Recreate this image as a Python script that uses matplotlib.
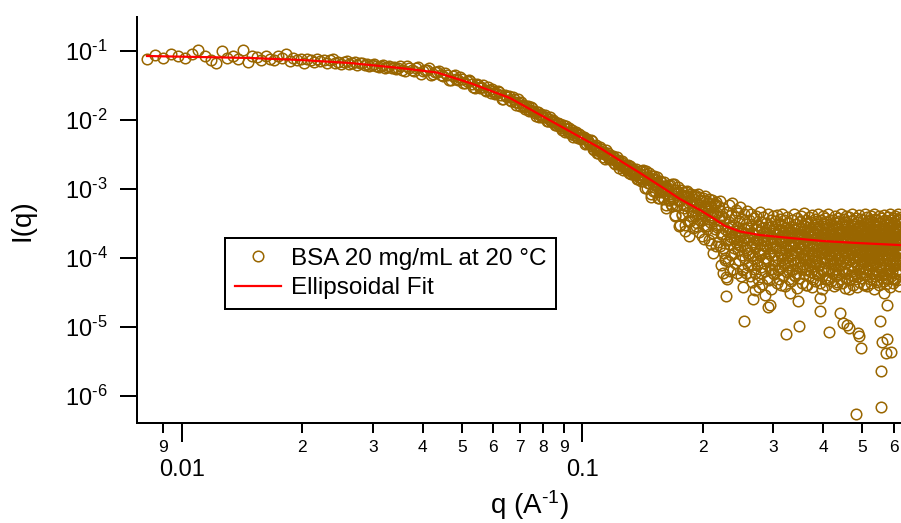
import numpy as np
import matplotlib
matplotlib.use("Agg")
import matplotlib.pyplot as plt
from matplotlib.ticker import FixedLocator, FixedFormatter, NullLocator

plt.rcParams['font.family'] = ['Liberation Sans', 'DejaVu Sans']
plt.rcParams['mathtext.fontset'] = 'custom'
plt.rcParams['mathtext.rm'] = 'Liberation Sans'
plt.rcParams['mathtext.it'] = 'Liberation Sans:italic'
plt.rcParams['mathtext.bf'] = 'Liberation Sans:bold'
plt.rcParams['mathtext.default'] = 'regular'

# ---------------- data ----------------
q_low = [0.0082, 0.0086, 0.0090, 0.0094, 0.0098, 0.0102, 0.0106, 0.0110, 0.0114, 0.0118,
         0.0122, 0.0126, 0.0130, 0.0134, 0.0138, 0.0142, 0.0146, 0.0150, 0.0154, 0.0158,
         0.0162, 0.0166, 0.0170, 0.0174, 0.0178, 0.0182, 0.0186, 0.0190, 0.0194, 0.0198,
         0.0202, 0.0206, 0.0210, 0.0214, 0.0218, 0.0222, 0.0226, 0.0230, 0.0234, 0.0238,
         0.0242, 0.0246, 0.0250, 0.0254, 0.0258, 0.0262, 0.0266, 0.0270, 0.0274, 0.0278,
         0.0282, 0.0286, 0.0290, 0.0294, 0.0298, 0.0302, 0.0306, 0.0310, 0.0314, 0.0318,
         0.0322, 0.0326, 0.0330, 0.0334, 0.0338, 0.0342, 0.0346]
I_low = [0.0770, 0.0869, 0.0791, 0.0905, 0.0851, 0.0804, 0.0906, 0.1040, 0.0857, 0.0749,
         0.0680, 0.0990, 0.0789, 0.0850, 0.0767, 0.1030, 0.0698, 0.0845, 0.0811, 0.0743,
         0.0848, 0.0774, 0.0747, 0.0858, 0.0792, 0.0900, 0.0720, 0.0793, 0.0729, 0.0762,
         0.0671, 0.0770, 0.0736, 0.0696, 0.0771, 0.0710, 0.0733, 0.0666, 0.0732, 0.0756,
         0.0681, 0.0698, 0.0652, 0.0702, 0.0718, 0.0652, 0.0667, 0.0688, 0.0631, 0.0665,
         0.0678, 0.0628, 0.0655, 0.0599, 0.0631, 0.0644, 0.0608, 0.0590, 0.0615, 0.0627,
         0.0568, 0.0592, 0.0598, 0.0564, 0.0581, 0.0548, 0.0566]

q_mid = [0.035, 0.036, 0.037, 0.038, 0.039,
         0.040, 0.041, 0.042, 0.043, 0.044, 0.045, 0.046, 0.047, 0.048, 0.049,
         0.050, 0.051, 0.052, 0.053, 0.054, 0.055, 0.056, 0.057, 0.058, 0.059,
         0.060, 0.061, 0.062, 0.063, 0.064, 0.065, 0.066, 0.067, 0.068, 0.069,
         0.070, 0.071, 0.072, 0.073, 0.074, 0.075, 0.076, 0.077, 0.078, 0.079,
         0.080, 0.081, 0.082, 0.083, 0.084, 0.085, 0.086, 0.087]
I_mid = [0.0602, 0.0512, 0.0562, 0.0515, 0.0579,
         0.0506, 0.0533, 0.0444, 0.0496, 0.0508, 0.0433, 0.0447, 0.0383, 0.0454, 0.0378,
         0.0390, 0.0340, 0.0377, 0.0336, 0.0290, 0.0326, 0.0304, 0.0276, 0.0301, 0.0247,
         0.0264, 0.0245, 0.0252, 0.0203, 0.0232, 0.0217, 0.0198, 0.0214, 0.0183, 0.0200,
         0.0162, 0.0167, 0.0144, 0.0158, 0.0141, 0.0148, 0.0127, 0.0130, 0.0110, 0.0123,
         0.0111, 0.0111, 0.00958, 0.0109, 0.00924, 0.00936, 0.00840, 0.00902]

q_mid_b = [0.0355, 0.0365, 0.0375, 0.0385, 0.0395, 0.0405, 0.0415, 0.0425, 0.0435, 0.0445,
           0.0455, 0.0465, 0.0475, 0.0485, 0.0495, 0.0505, 0.0515, 0.0525, 0.0535, 0.0545,
           0.0555, 0.0565, 0.0575, 0.0585, 0.0595, 0.0605, 0.0615, 0.0625, 0.0635, 0.0645,
           0.0655, 0.0665, 0.0675, 0.0685, 0.0695, 0.0705, 0.0715, 0.0725, 0.0735, 0.0745,
           0.0755, 0.0765, 0.0775, 0.0785, 0.0795, 0.0805, 0.0815, 0.0825, 0.0835, 0.0845,
           0.0855, 0.0865, 0.0875]
I_mid_b = [0.0534, 0.0601, 0.0530, 0.0563, 0.0469, 0.0527, 0.0563, 0.0460, 0.0488, 0.0446,
           0.0483, 0.0382, 0.0434, 0.0393, 0.0420, 0.0346, 0.0362, 0.0366, 0.0299, 0.0329,
           0.0295, 0.0324, 0.0259, 0.0274, 0.0277, 0.0238, 0.0264, 0.0229, 0.0200, 0.0226,
           0.0226, 0.0191, 0.0201, 0.0167, 0.0178, 0.0185, 0.0155, 0.0161, 0.0137, 0.0152,
           0.0134, 0.0116, 0.0130, 0.0120, 0.0109, 0.0119, 0.00966, 0.0104, 0.00953, 0.0100,
           0.00847, 0.00902, 0.00810]

q_knee = [0.088, 0.089,
          0.090, 0.091, 0.092, 0.093, 0.094, 0.095, 0.096, 0.097, 0.098, 0.099,
          0.100, 0.101, 0.102, 0.103, 0.104, 0.105, 0.106, 0.107, 0.108, 0.109,
          0.110, 0.111, 0.112, 0.113, 0.114, 0.115, 0.116, 0.117, 0.118, 0.119,
          0.120, 0.121, 0.122, 0.123, 0.124, 0.125, 0.126, 0.127, 0.128, 0.129,
          0.130, 0.131, 0.132, 0.133, 0.134, 0.135, 0.136, 0.137, 0.138, 0.139,
          0.140, 0.141, 0.142, 0.143, 0.144, 0.145, 0.146, 0.147, 0.148, 0.149,
          0.150, 0.151, 0.152, 0.153, 0.154, 0.155, 0.156, 0.157, 0.158, 0.159,
          0.160, 0.161, 0.162, 0.163, 0.164, 0.165, 0.166, 0.167, 0.168, 0.169,
          0.170, 0.171, 0.172, 0.173, 0.174, 0.175, 0.176, 0.177, 0.178, 0.179,
          0.180, 0.181, 0.182, 0.183, 0.184, 0.185, 0.186, 0.187, 0.188, 0.189]
I_knee = [0.00861, 0.00720,
          0.00778, 0.00810, 0.00668, 0.00679, 0.00709, 0.00570, 0.00638, 0.00575, 0.00626, 0.00522,
          0.00548, 0.00558, 0.00459, 0.00514, 0.00466, 0.00507, 0.00415, 0.00372, 0.00412, 0.00330,
          0.00361, 0.00405, 0.00328, 0.00343, 0.00275, 0.00311, 0.00338, 0.00270, 0.00277, 0.00290,
          0.00237, 0.00264, 0.00292, 0.00230, 0.00229, 0.00247, 0.00186, 0.00217, 0.00219, 0.00187,
          0.00226, 0.00190, 0.00166, 0.00185, 0.00194, 0.00162, 0.00175, 0.00139, 0.00158, 0.00181,
          0.00145, 0.00183, 0.00130, 0.00147, 0.00181, 0.00103, 0.00149, 0.00122, 0.000843, 0.00152,
          0.00119, 0.00154, 0.000923, 0.00118, 0.00128, 0.000741, 0.00130, 0.000927, 0.000763, 0.00110,
          0.00125, 0.000889, 0.000579, 0.000952, 0.00105, 0.000702, 0.00114, 0.000560, 0.000740, 0.00117,
          0.000402, 0.000866, 0.000578, 0.000919, 0.000295, 0.000685, 0.000954, 0.000417, 0.000805, 0.000536,
          0.000296, 0.000906, 0.000584, 0.000780, 0.000338, 0.000211, 0.000664, 0.000845, 0.000401, 0.000591]

q_knee_b = [0.0885, 0.0895,
            0.0905, 0.0915, 0.0925, 0.0935, 0.0945, 0.0955, 0.0965, 0.0975, 0.0985, 0.0995,
            0.1005, 0.1015, 0.1025, 0.1035, 0.1045, 0.1055, 0.1065, 0.1075, 0.1085, 0.1095,
            0.1105, 0.1115, 0.1125, 0.1135, 0.1145, 0.1155, 0.1165, 0.1175, 0.1185, 0.1195,
            0.1205, 0.1215, 0.1225, 0.1235, 0.1245, 0.1255, 0.1265, 0.1275, 0.1285, 0.1295,
            0.1305, 0.1315, 0.1325, 0.1335, 0.1345, 0.1355, 0.1365, 0.1375, 0.1385, 0.1395,
            0.1405, 0.1415, 0.1425, 0.1435, 0.1445, 0.1455, 0.1465, 0.1475, 0.1485, 0.1495,
            0.1505, 0.1515, 0.1525, 0.1535, 0.1545, 0.1555, 0.1565, 0.1575, 0.1585, 0.1595,
            0.1605, 0.1615, 0.1625, 0.1635, 0.1645, 0.1655, 0.1665, 0.1675, 0.1685, 0.1695,
            0.1705, 0.1715, 0.1725, 0.1735, 0.1745, 0.1755, 0.1765, 0.1775, 0.1785, 0.1795,
            0.1805, 0.1815, 0.1825, 0.1835, 0.1845, 0.1855, 0.1865, 0.1875, 0.1885, 0.1895]
I_knee_b = [0.00773, 0.00839,
            0.00674, 0.00745, 0.00775, 0.00627, 0.00665, 0.00611, 0.00664, 0.00542, 0.00599, 0.00546,
            0.00571, 0.00456, 0.00522, 0.00492, 0.00444, 0.00504, 0.00382, 0.00409, 0.00432, 0.00334,
            0.00359, 0.00379, 0.00293, 0.00320, 0.00364, 0.00312, 0.00274, 0.00307, 0.00269, 0.00300,
            0.00233, 0.00257, 0.00260, 0.00203, 0.00230, 0.00258, 0.00205, 0.00220, 0.00198, 0.00218,
            0.00173, 0.00214, 0.00186, 0.00164, 0.00183, 0.00167, 0.00194, 0.00139, 0.00150, 0.00165,
            0.00132, 0.00187, 0.00148, 0.00104, 0.00164, 0.00123, 0.00173, 0.00134, 0.000777, 0.00139,
            0.000940, 0.00140, 0.00109, 0.00149, 0.000736, 0.00114, 0.000902, 0.00127, 0.000966, 0.000714,
            0.00112, 0.000537, 0.00100, 0.00113, 0.000692, 0.000783, 0.000609, 0.00117, 0.000707, 0.000878,
            0.000413, 0.000980, 0.000594, 0.00107, 0.000671, 0.000300, 0.000813, 0.000440, 0.000892, 0.000584,
            0.000248, 0.000769, 0.000931, 0.000458, 0.000632, 0.000347, 0.000800, 0.000474, 0.000273, 0.000714]

q_high = [0.190, 0.191, 0.192, 0.193, 0.194, 0.195, 0.196, 0.197, 0.198, 0.199,
          0.200, 0.201, 0.202, 0.203, 0.204, 0.205, 0.206, 0.207, 0.208, 0.209,
          0.210, 0.211, 0.212, 0.213, 0.214, 0.215, 0.216, 0.217, 0.218, 0.219,
          0.220, 0.221, 0.222, 0.223, 0.224, 0.225, 0.226, 0.227, 0.228, 0.229,
          0.230, 0.231, 0.232, 0.233, 0.234, 0.235, 0.236, 0.237, 0.238, 0.239,
          0.240, 0.241, 0.242, 0.243, 0.244, 0.245, 0.246, 0.247, 0.248, 0.249,
          0.250, 0.251, 0.252, 0.253, 0.254, 0.255, 0.256, 0.257, 0.258, 0.259,
          0.260, 0.261, 0.262, 0.263, 0.264, 0.265, 0.266, 0.267, 0.268, 0.269,
          0.270, 0.271, 0.272, 0.273, 0.274, 0.275, 0.276, 0.277, 0.278, 0.279,
          0.280, 0.281, 0.282, 0.283, 0.284, 0.285, 0.286, 0.287, 0.288, 0.289,
          0.290, 0.291, 0.292, 0.293, 0.294, 0.295, 0.296, 0.297, 0.298, 0.299,
          0.300, 0.301, 0.302, 0.303, 0.304, 0.305, 0.306, 0.307, 0.308, 0.309,
          0.310, 0.311, 0.312, 0.313, 0.314, 0.315, 0.316, 0.317, 0.318, 0.319,
          0.320, 0.321, 0.322, 0.323, 0.324, 0.325, 0.326, 0.327, 0.328, 0.329,
          0.330, 0.331, 0.332, 0.333, 0.334, 0.335, 0.336, 0.337, 0.338, 0.339,
          0.340, 0.341, 0.342, 0.343, 0.344, 0.345, 0.346, 0.347, 0.348, 0.349,
          0.350, 0.351, 0.352, 0.353, 0.354, 0.355, 0.356, 0.357, 0.358, 0.359,
          0.360, 0.361, 0.362, 0.363, 0.364, 0.365, 0.366, 0.367, 0.368, 0.369,
          0.370, 0.371, 0.372, 0.373, 0.374, 0.375, 0.376, 0.377, 0.378, 0.379,
          0.380, 0.381, 0.382, 0.383, 0.384, 0.385, 0.386, 0.387, 0.388, 0.389,
          0.390, 0.391, 0.392, 0.393, 0.394, 0.395, 0.396, 0.397, 0.398, 0.399,
          0.400, 0.401, 0.402, 0.403, 0.404, 0.405, 0.406, 0.407, 0.408, 0.409,
          0.410, 0.411, 0.412, 0.413, 0.414, 0.415, 0.416, 0.417, 0.418, 0.419,
          0.420, 0.421, 0.422, 0.423, 0.424, 0.425, 0.426, 0.427, 0.428, 0.429,
          0.430, 0.431, 0.432, 0.433, 0.434, 0.435, 0.436, 0.437, 0.438, 0.439,
          0.440, 0.441, 0.442, 0.443, 0.444, 0.445, 0.446, 0.447, 0.448, 0.449,
          0.450, 0.451, 0.452, 0.453, 0.454, 0.455, 0.456, 0.457, 0.458, 0.459,
          0.460, 0.461, 0.462, 0.463, 0.464, 0.465, 0.466, 0.467, 0.468, 0.469,
          0.470, 0.471, 0.472, 0.473, 0.474, 0.475, 0.476, 0.477, 0.478, 0.479,
          0.480, 0.481, 0.482, 0.483, 0.484, 0.485, 0.486, 0.487, 0.488, 0.489,
          0.490, 0.491, 0.492, 0.493, 0.494, 0.495, 0.496, 0.497, 0.498, 0.499,
          0.500, 0.501, 0.502, 0.503, 0.504, 0.505, 0.506, 0.507, 0.508, 0.509,
          0.510, 0.511, 0.512, 0.513, 0.514, 0.515, 0.516, 0.517, 0.518, 0.519,
          0.520, 0.521, 0.522, 0.523, 0.524, 0.525, 0.526, 0.527, 0.528, 0.529,
          0.530, 0.531, 0.532, 0.533, 0.534, 0.535, 0.536, 0.537, 0.538, 0.539,
          0.540, 0.541, 0.542, 0.543, 0.544, 0.545, 0.546, 0.547, 0.548, 0.549,
          0.550, 0.551, 0.552, 0.553, 0.554, 0.555, 0.556, 0.557, 0.558, 0.559,
          0.560, 0.561, 0.562, 0.563, 0.564, 0.565, 0.566, 0.567, 0.568, 0.569,
          0.570, 0.571, 0.572, 0.573, 0.574, 0.575, 0.576, 0.577, 0.578, 0.579,
          0.580, 0.581, 0.582, 0.583, 0.584, 0.585, 0.586, 0.587, 0.588, 0.589,
          0.590, 0.591, 0.592, 0.593, 0.594, 0.595, 0.596, 0.597, 0.598, 0.599,
          0.600, 0.601, 0.602, 0.603, 0.604, 0.605, 0.606, 0.607, 0.608, 0.609,
          0.610, 0.611, 0.612, 0.613, 0.614, 0.615, 0.616, 0.617, 0.618, 0.619,
          0.620, 0.621, 0.622, 0.623, 0.624, 0.625]
I_high = [7.8e-4, 4.1e-4, 6.3e-4, 3.2e-4, 8.6e-4, 5.2e-4, 2.4e-4, 6.9e-4, 4.4e-4, 3.6e-4,
          7.4e-4, 1.9e-4, 5.6e-4, 4.0e-4, 6.6e-4, 2.9e-4, 4.8e-4, 7.1e-4, 3.3e-4, 1.6e-4,
          5.5e-4, 3.9e-4, 1.18e-4, 5.9e-4, 2.6e-4, 4.4e-4, 6.4e-4, 3.0e-4, 1.7e-4, 4.9e-4,
          3.5e-4, 6.8e-4, 2.2e-4, 4.1e-4, 5.3e-4, 1.4e-4, 3.8e-4, 9.35e-5, 5.3e-5, 2.8e-5,
          4.6e-4, 2.7e-4, 5.8e-4, 3.3e-4, 1.9e-4, 4.2e-4, 2.4e-4, 6.2e-4, 3.0e-4, 1.2e-4,
          3.9e-4, 2.1e-4, 5.0e-4, 2.8e-4, 1.6e-4, 4.5e-4, 3.4e-4, 2.0e-4, 5.5e-4, 2.5e-4,
          3.7e-4, 6.7e-5, 3.8e-5, 1.22e-5, 4.3e-4, 2.3e-4, 3.1e-4, 1.3e-4, 4.8e-4, 2.7e-4,
          1.8e-4, 3.5e-4, 1.5e-4, 2.9e-4, 4.4e-4, 1.1e-4, 2.2e-4, 2.55e-5, 3.8e-4, 1.7e-4,
          3.44e-5, 2.6e-4, 4.1e-4, 8.0e-5, 3.0e-4, 1.9e-4, 2.4e-4, 4.6e-4, 1.3e-4, 3.3e-4,
          6.0e-5, 2.7e-4, 1.8e-4, 3.9e-4, 2.1e-4, 1.0e-4, 2.91e-5, 3.2e-4, 2.4e-4, 1.5e-4,
          4.3e-4, 1.95e-5, 2.8e-4, 1.2e-4, 2.08e-5, 3.6e-4, 2.0e-4, 7.0e-5, 2.9e-4, 4.0e-4,
          1.6e-4, 2.3e-4, 3.4e-4, 9.0e-5, 2.6e-4, 1.4e-4, 4.2e-4, 2.2e-4, 3.1e-4, 5.0e-5,
          1.9e-4, 3.7e-4, 2.5e-4, 1.1e-4, 2.9e-4, 4.4e-4, 1.7e-4, 2.3e-4, 8.5e-5, 3.5e-4,
          2.0e-4, 2.7e-4, 7.9e-6, 1.3e-4, 3.9e-4, 2.1e-4, 1.6e-4, 3.2e-4, 6.5e-5, 2.6e-4,
          3.11e-5, 2.4e-4, 1.5e-4, 3.6e-4, 2.0e-4, 9.5e-5, 2.8e-4, 4.3e-4, 1.7e-4, 2.3e-4,
          5.5e-5, 3.1e-4, 1.2e-4, 2.6e-4, 3.8e-4, 1.9e-4, 2.4e-5, 1.03e-5, 2.2e-4, 3.4e-4,
          1.4e-4, 2.7e-4, 4.1e-4, 7.5e-5, 2.0e-4, 3.0e-4, 1.6e-4, 2.5e-4, 4.5e-4, 1.0e-4,
          2.9e-4, 1.8e-4, 3.5e-4, 4.0e-5, 2.3e-4, 1.3e-4, 3.2e-4, 2.1e-4, 3.9e-4, 8.0e-5,
          2.6e-4, 1.7e-4, 3.3e-4, 2.0e-4, 1.1e-4, 4.2e-4, 2.4e-4, 1.5e-4, 3.0e-4, 6.0e-5,
          2.2e-4, 3.7e-4, 1.9e-4, 2.8e-4, 9.0e-5, 3.4e-4, 1.6e-4, 2.5e-4, 4.4e-4, 1.2e-4,
          2.9e-4, 2.6e-5, 1.71e-5, 2.1e-4, 3.6e-4, 1.4e-4, 2.7e-4, 1.8e-4, 4.0e-4, 7.0e-5,
          2.3e-4, 3.1e-4, 1.3e-4, 2.0e-4, 3.8e-4, 1.0e-4, 2.6e-4, 1.7e-4, 3.3e-4, 5.0e-5,
          2.4e-4, 4.3e-4, 1.5e-4, 8.5e-6, 2.8e-4, 1.9e-4, 3.5e-4, 1.1e-4, 2.2e-4, 3.0e-4,
          1.6e-4, 2.7e-4, 1.3e-4, 3.6e-4, 2.1e-4, 8.0e-5, 2.9e-4, 1.7e-4, 4.1e-4, 2.4e-4,
          1.2e-4, 3.2e-4, 4.5e-5, 2.0e-4, 3.8e-4, 1.5e-4, 2.6e-4, 9.5e-5, 3.4e-4, 2.2e-4,
          1.6e-5, 1.8e-4, 4.3e-4, 1.4e-4, 2.5e-4, 3.1e-4, 6.5e-5, 1.14e-5, 2.3e-4, 3.7e-4,
          1.6e-4, 2.8e-4, 1.0e-4, 3.3e-4, 1.9e-4, 4.0e-4, 1.3e-4, 2.5e-4, 1.07e-5, 3.0e-4,
          1.7e-4, 2.2e-4, 3.5e-5, 9.7e-6, 3.9e-4, 1.5e-4, 2.7e-4, 2.0e-4, 3.4e-4, 8.0e-5,
          2.4e-4, 4.4e-4, 1.2e-4, 2.9e-4, 1.8e-4, 3.6e-4, 5.5e-5, 2.1e-4, 3.1e-4, 1.4e-4,
          2.6e-4, 3.8e-4, 5.5e-7, 1.9e-4, 2.3e-4, 1.1e-4, 3.3e-4, 1.6e-4, 8.2e-6, 2.8e-4,
          4.2e-4, 7.5e-6, 2.0e-4, 1.3e-4, 3.0e-4, 2.5e-4, 5.0e-6, 3.7e-4, 1.7e-4, 9.0e-5,
          2.7e-4, 2.2e-4, 3.5e-4, 1.5e-4, 4.0e-5, 2.9e-4, 1.8e-4, 4.3e-4, 1.2e-4, 2.4e-4,
          3.2e-4, 7.0e-5, 2.1e-4, 3.9e-4, 1.6e-4, 2.6e-4, 1.0e-4, 3.4e-4, 1.9e-4, 2.8e-4,
          1.4e-4, 3.1e-4, 2.0e-4, 1.1e-4, 3.6e-4, 2.3e-4, 1.5e-4, 4.1e-4, 2.6e-4, 6.0e-5,
          1.8e-4, 3.3e-4, 2.2e-4, 1.3e-4, 2.9e-4, 4.4e-4, 1.7e-4, 8.5e-5, 2.5e-4, 3.7e-4,
          1.4e-4, 2.1e-4, 3.0e-4, 4.5e-5, 1.9e-4, 3.5e-4, 2.4e-4, 1.0e-4, 2.8e-4, 4.0e-4,
          1.6e-4, 2.3e-4, 3.2e-4, 1.22e-5, 2.0e-4, 1.2e-4, 6.9e-7, 2.3e-6, 3.8e-4, 2.6e-4,
          6.1e-6, 1.8e-4, 3.4e-4, 9.5e-5, 2.2e-4, 4.2e-4, 1.5e-4, 2.7e-4, 3.1e-5, 2.0e-4,
          3.6e-4, 1.3e-4, 2.4e-4, 4.2e-6, 3.0e-4, 1.7e-4, 2.1e-5, 6.7e-6, 2.5e-4, 3.9e-4,
          1.1e-4, 2.2e-4, 3.3e-4, 1.6e-4, 7.0e-5, 2.8e-4, 4.3e-4, 1.9e-4, 2.4e-4, 1.2e-4,
          4.35e-6, 3.5e-4, 2.1e-4, 1.4e-4, 3.0e-4, 5.0e-5, 2.6e-4, 3.8e-4, 1.5e-4, 2.0e-4,
          3.2e-4, 1.0e-4, 2.7e-4, 4.1e-4, 1.7e-4, 2.3e-4, 8.0e-5, 3.4e-4, 1.9e-4, 2.9e-4,
          1.3e-4, 3.7e-4, 2.2e-4, 1.6e-4, 4.4e-4, 2.5e-4, 6.5e-5, 3.1e-4, 1.8e-4, 2.4e-4,
          3.5e-4, 1.4e-4, 2.7e-4, 2.0e-4, 3.9e-4, 1.2e-4]

q_high_b = [0.1905, 0.1915, 0.1925, 0.1935, 0.1945, 0.1955, 0.1965, 0.1975, 0.1985, 0.1995,
            0.2005, 0.2015, 0.2025, 0.2035, 0.2045, 0.2055, 0.2065, 0.2075, 0.2085, 0.2095,
            0.2105, 0.2115, 0.2125, 0.2135, 0.2145, 0.2155, 0.2165, 0.2175, 0.2185, 0.2195,
            0.2205, 0.2215, 0.2225, 0.2235, 0.2245, 0.2255, 0.2265, 0.2275, 0.2285, 0.2295,
            0.2305, 0.2315, 0.2325, 0.2335, 0.2345, 0.2355, 0.2365, 0.2375, 0.2385, 0.2395,
            0.2405, 0.2415, 0.2425, 0.2435, 0.2445, 0.2455, 0.2465, 0.2475, 0.2485, 0.2495,
            0.2505, 0.2515, 0.2525, 0.2535, 0.2545, 0.2555, 0.2565, 0.2575, 0.2585, 0.2595,
            0.2605, 0.2615, 0.2625, 0.2635, 0.2645, 0.2655, 0.2665, 0.2675, 0.2685, 0.2695,
            0.2705, 0.2715, 0.2725, 0.2735, 0.2745, 0.2755, 0.2765, 0.2775, 0.2785, 0.2795,
            0.2805, 0.2815, 0.2825, 0.2835, 0.2845, 0.2855, 0.2865, 0.2875, 0.2885, 0.2895,
            0.2905, 0.2915, 0.2925, 0.2935, 0.2945, 0.2955, 0.2965, 0.2975, 0.2985, 0.2995,
            0.3005, 0.3015, 0.3025, 0.3035, 0.3045, 0.3055, 0.3065, 0.3075, 0.3085, 0.3095,
            0.3105, 0.3115, 0.3125, 0.3135, 0.3145, 0.3155, 0.3165, 0.3175, 0.3185, 0.3195,
            0.3205, 0.3215, 0.3225, 0.3235, 0.3245, 0.3255, 0.3265, 0.3275, 0.3285, 0.3295,
            0.3305, 0.3315, 0.3325, 0.3335, 0.3345, 0.3355, 0.3365, 0.3375, 0.3385, 0.3395,
            0.3405, 0.3415, 0.3425, 0.3435, 0.3445, 0.3455, 0.3465, 0.3475, 0.3485, 0.3495,
            0.3505, 0.3515, 0.3525, 0.3535, 0.3545, 0.3555, 0.3565, 0.3575, 0.3585, 0.3595,
            0.3605, 0.3615, 0.3625, 0.3635, 0.3645, 0.3655, 0.3665, 0.3675, 0.3685, 0.3695,
            0.3705, 0.3715, 0.3725, 0.3735, 0.3745, 0.3755, 0.3765, 0.3775, 0.3785, 0.3795,
            0.3805, 0.3815, 0.3825, 0.3835, 0.3845, 0.3855, 0.3865, 0.3875, 0.3885, 0.3895,
            0.3905, 0.3915, 0.3925, 0.3935, 0.3945, 0.3955, 0.3965, 0.3975, 0.3985, 0.3995,
            0.4005, 0.4015, 0.4025, 0.4035, 0.4045, 0.4055, 0.4065, 0.4075, 0.4085, 0.4095,
            0.4105, 0.4115, 0.4125, 0.4135, 0.4145, 0.4155, 0.4165, 0.4175, 0.4185, 0.4195,
            0.4205, 0.4215, 0.4225, 0.4235, 0.4245, 0.4255, 0.4265, 0.4275, 0.4285, 0.4295,
            0.4305, 0.4315, 0.4325, 0.4335, 0.4345, 0.4355, 0.4365, 0.4375, 0.4385, 0.4395,
            0.4405, 0.4415, 0.4425, 0.4435, 0.4445, 0.4455, 0.4465, 0.4475, 0.4485, 0.4495,
            0.4505, 0.4515, 0.4525, 0.4535, 0.4545, 0.4555, 0.4565, 0.4575, 0.4585, 0.4595,
            0.4605, 0.4615, 0.4625, 0.4635, 0.4645, 0.4655, 0.4665, 0.4675, 0.4685, 0.4695,
            0.4705, 0.4715, 0.4725, 0.4735, 0.4745, 0.4755, 0.4765, 0.4775, 0.4785, 0.4795,
            0.4805, 0.4815, 0.4825, 0.4835, 0.4845, 0.4855, 0.4865, 0.4875, 0.4885, 0.4895,
            0.4905, 0.4915, 0.4925, 0.4935, 0.4945, 0.4955, 0.4965, 0.4975, 0.4985, 0.4995,
            0.5005, 0.5015, 0.5025, 0.5035, 0.5045, 0.5055, 0.5065, 0.5075, 0.5085, 0.5095,
            0.5105, 0.5115, 0.5125, 0.5135, 0.5145, 0.5155, 0.5165, 0.5175, 0.5185, 0.5195,
            0.5205, 0.5215, 0.5225, 0.5235, 0.5245, 0.5255, 0.5265, 0.5275, 0.5285, 0.5295,
            0.5305, 0.5315, 0.5325, 0.5335, 0.5345, 0.5355, 0.5365, 0.5375, 0.5385, 0.5395,
            0.5405, 0.5415, 0.5425, 0.5435, 0.5445, 0.5455, 0.5465, 0.5475, 0.5485, 0.5495,
            0.5505, 0.5515, 0.5525, 0.5535, 0.5545, 0.5555, 0.5565, 0.5575, 0.5585, 0.5595,
            0.5605, 0.5615, 0.5625, 0.5635, 0.5645, 0.5655, 0.5665, 0.5675, 0.5685, 0.5695,
            0.5705, 0.5715, 0.5725, 0.5735, 0.5745, 0.5755, 0.5765, 0.5775, 0.5785, 0.5795,
            0.5805, 0.5815, 0.5825, 0.5835, 0.5845, 0.5855, 0.5865, 0.5875, 0.5885, 0.5895,
            0.5905, 0.5915, 0.5925, 0.5935, 0.5945, 0.5955, 0.5965, 0.5975, 0.5985, 0.5995,
            0.6005, 0.6015, 0.6025, 0.6035, 0.6045, 0.6055, 0.6065, 0.6075, 0.6085, 0.6095,
            0.6105, 0.6115, 0.6125, 0.6135, 0.6145, 0.6155, 0.6165, 0.6175, 0.6185, 0.6195,
            0.6205, 0.6215, 0.6225, 0.6235, 0.6245]
I_high_b = [5.0e-4, 8.2e-4, 2.9e-4, 6.0e-4, 4.3e-4, 7.6e-4, 3.5e-4, 5.4e-4, 2.1e-4, 6.7e-4,
            4.6e-4, 3.0e-4, 8.0e-4, 5.1e-4, 2.6e-4, 6.2e-4, 3.7e-4, 1.8e-4, 5.7e-4, 4.2e-4,
            7.0e-4, 2.3e-4, 4.7e-4, 3.4e-4, 6.1e-4, 1.5e-4, 4.5e-4, 2.8e-4, 5.6e-4, 3.9e-4,
            15e-5, 30e-5, 8e-5, 22e-5, 6e-5, 12e-5, 26e-5, 10e-5, 18e-5, 5e-5,
            24e-5, 9e-5, 16e-5, 6.5e-5, 20e-5, 11e-5, 28e-5, 7e-5, 14e-5, 19e-5,
            8.5e-5, 17e-5, 25e-5, 6e-5, 13e-5, 21e-5, 9.5e-5, 15e-5, 5.5e-5, 23e-5,
            11e-5, 18e-5, 7e-5, 27e-5, 10e-5, 14e-5, 6e-5, 20e-5, 12e-5, 8e-5,
            12e-5, 5.5e-5, 20e-5, 8e-5, 16e-5, 4.5e-5, 10e-5, 23e-5, 7e-5, 14e-5,
            6e-5, 18e-5, 9e-5, 26e-5, 5e-5, 12e-5, 3.8e-5, 16e-5, 11e-5, 7.5e-5,
            20e-5, 4.2e-5, 13e-5, 8.5e-5, 24e-5, 6.5e-5, 15e-5, 10e-5, 5.2e-5, 18e-5,
            9e-5, 22e-5, 4.8e-5, 12e-5, 7e-5, 17e-5, 3.6e-5, 14e-5, 26e-5, 6e-5,
            11e-5, 5.8e-5, 19e-5, 8e-5, 15e-5, 4.4e-5, 23e-5, 10e-5, 6.8e-5, 13e-5,
            25e-5, 7.2e-5, 12e-5, 4e-5, 17e-5, 9.5e-5, 5.4e-5, 21e-5, 11e-5, 8e-5,
            14e-5, 3.9e-5, 18e-5, 6.2e-5, 10e-5, 24e-5, 7.8e-5, 13e-5, 5e-5, 16e-5,
            9e-5, 20e-5, 4.6e-5, 12e-5, 7e-5, 15e-5, 26e-5, 5.6e-5, 11e-5, 8.4e-5,
            17e-5, 6e-5, 13e-5, 3.7e-5, 22e-5, 9e-5, 14e-5, 5.2e-5, 19e-5, 10e-5,
            7.4e-5, 24e-5, 12e-5, 4.3e-5, 16e-5, 8.2e-5, 11e-5, 5.8e-5, 20e-5, 6.6e-5,
            13e-5, 9.5e-5, 4.1e-5, 18e-5, 7e-5, 25e-5, 10e-5, 5.4e-5, 15e-5, 8e-5,
            21e-5, 6.2e-5, 12e-5, 3.8e-5, 16e-5, 9e-5, 14e-5, 5e-5, 23e-5, 7.6e-5,
            10e-5, 4.7e-5, 19e-5, 8.8e-5, 13e-5, 6e-5, 26e-5, 11e-5, 5.6e-5, 15e-5,
            8e-5, 17e-5, 4.4e-5, 12e-5, 7e-5, 22e-5, 9.6e-5, 3.6e-5, 14e-5, 6.4e-5,
            18e-5, 10e-5, 5.2e-5, 24e-5, 8.4e-5, 13e-5, 4e-5, 16e-5, 6.8e-5, 11e-5,
            7.2e-5, 20e-5, 12e-5, 5e-5, 15e-5, 9e-5, 25e-5, 4.6e-5, 10e-5, 17e-5,
            6e-5, 13e-5, 8.2e-5, 22e-5, 3.9e-5, 11e-5, 16e-5, 7e-5, 19e-5, 5.4e-5,
            14e-5, 9.4e-5, 4.2e-5, 18e-5, 6.6e-5, 12e-5, 24e-5, 5.8e-5, 10e-5, 8e-5,
            23e-5, 5e-5, 15e-5, 7.8e-5, 11e-5, 4.4e-5, 20e-5, 9e-5, 13e-5, 6.2e-5,
            10e-5, 17e-5, 3.7e-5, 12e-5, 8.6e-5, 26e-5, 6e-5, 14e-5, 5.2e-5, 19e-5,
            7e-5, 11e-5, 21e-5, 4.8e-5, 16e-5, 9.2e-5, 13e-5, 5.6e-5, 24e-5, 8e-5,
            12e-5, 6.4e-5, 18e-5, 4e-5, 10e-5, 15e-5, 7.4e-5, 22e-5, 5e-5, 13e-5,
            9e-5, 25e-5, 5.8e-5, 14e-5, 8e-5, 3.8e-5, 17e-5, 11e-5, 6.8e-5, 20e-5,
            4.5e-5, 13e-5, 9.8e-5, 23e-5, 6e-5, 16e-5, 7.6e-5, 12e-5, 5.2e-5, 18e-5,
            11e-5, 7e-5, 21e-5, 4.2e-5, 14e-5, 8.8e-5, 26e-5, 6.2e-5, 10e-5, 15e-5,
            5.6e-5, 19e-5, 9e-5, 12e-5, 3.9e-5, 16e-5, 7.2e-5, 24e-5, 10e-5, 6.6e-5,
            17e-5, 8e-5, 13e-5, 5e-5, 22e-5, 9.4e-5, 4.4e-5, 15e-5, 11e-5, 7.8e-5,
            20e-5, 6e-5, 12e-5, 3.6e-5, 18e-5, 8.4e-5, 14e-5, 5.4e-5, 25e-5, 10e-5,
            7e-5, 15e-5, 4.8e-5, 11e-5, 21e-5, 6.4e-5, 13e-5, 9e-5, 17e-5, 5.8e-5,
            12e-5, 4e-5, 19e-5, 8.2e-5, 14e-5, 6.8e-5, 23e-5, 10e-5, 5.2e-5, 16e-5,
            9.2e-5, 18e-5, 5.6e-5, 13e-5, 7.4e-5, 26e-5, 4.6e-5, 11e-5, 15e-5, 6e-5,
            22e-5, 8e-5, 12e-5, 4.2e-5, 17e-5, 9.8e-5, 6.4e-5, 14e-5, 5e-5, 20e-5,
            10e-5, 6.6e-5, 24e-5, 8.6e-5, 13e-5, 3.8e-5, 16e-5, 7.2e-5, 11e-5, 18e-5,
            5.4e-5, 14e-5, 9e-5, 21e-5, 6.2e-5, 12e-5, 4.4e-5, 19e-5, 8e-5, 15e-5,
            11e-5, 7.6e-5, 17e-5, 5e-5, 23e-5, 9.4e-5, 13e-5, 6e-5, 25e-5, 8.8e-5,
            16e-5, 4.8e-5, 12e-5, 7e-5, 20e-5, 10e-5, 5.8e-5, 14e-5, 3.9e-5, 18e-5,
            9e-5, 13e-5, 6.4e-5, 22e-5, 11e-5]

q_fit = [0.00819, 0.01111, 0.01481, 0.01974, 0.02631, 0.03506, 0.04338, 0.05243, 0.06600,
         0.08448, 0.09867, 0.1107, 0.1293, 0.1393, 0.1563, 0.1753, 0.1967, 0.2120, 0.2271,
         0.2476, 0.2777, 0.3300, 0.3991, 0.4851, 0.6211]
I_fit = [0.0846, 0.0818, 0.0792, 0.0741, 0.0670, 0.0567, 0.0488, 0.0344, 0.0208,
         0.00935, 0.00567, 0.00393, 0.00223, 0.00171, 0.00111, 0.000716, 0.000496, 0.000380, 0.000291,
         0.000242, 0.000215, 0.000195, 0.000176, 0.000165, 0.000154]

y_major = [1e-6, 1e-5, 1e-4, 1e-3, 1e-2, 1e-1]
y_exponents = ['-6', '-5', '-4', '-3', '-2', '-1']
x_major = [0.01, 0.1]
x_major_labels = ['0.01', '0.1']
x_minor = [0.009, 0.02, 0.03, 0.04, 0.05, 0.06, 0.07, 0.08, 0.09, 0.2, 0.3, 0.4, 0.5, 0.6]
x_minor_labels = ['9', '2', '3', '4', '5', '6', '7', '8', '9', '2', '3', '4', '5', '6']

series_label = 'BSA 20 mg/mL at 20 °C'
fit_label = 'Ellipsoidal Fit'

for a, b in [(q_low, I_low), (q_mid, I_mid), (q_mid_b, I_mid_b), (q_knee, I_knee),
             (q_knee_b, I_knee_b), (q_high, I_high), (q_high_b, I_high_b), (q_fit, I_fit)]:
    assert len(a) == len(b), (len(a), len(b))

# superscripts with a short hyphen if mathtext supports \text
try:
    from matplotlib.mathtext import MathTextParser
    MathTextParser('agg').parse(r'$10^{\text{-1}}$', dpi=100)
    def sup(e):
        return r'\text{%s}' % e
except Exception:
    def sup(e):
        return e

y_major_labels = ['$10^{%s}$' % sup(e) for e in y_exponents]

# ---------------- figure ----------------
W, H = 901, 523
fig = plt.figure(figsize=(W / 100, H / 100), dpi=100)
ax = fig.add_axes([137 / W, 1 - 423 / H, (901 - 137) / W, (423 - 17) / H])
ax.set_xscale('log')
ax.set_yscale('log')

q_data = np.concatenate([q_low, q_mid, q_mid_b, q_knee, q_knee_b, q_high, q_high_b])
I_data = np.concatenate([I_low, I_mid, I_mid_b, I_knee, I_knee_b, I_high, I_high_b])

brown = '#996600'
ax.plot(q_data, I_data, linestyle='none', marker='o', markersize=7.6,
        markerfacecolor='none', markeredgecolor=brown, markeredgewidth=1.1,
        label=series_label, zorder=2)
ax.plot(q_fit, I_fit, color='#ff0000', linewidth=1.6, label=fit_label, zorder=3)

ax.set_xlim(0.007733, 0.6246)
ax.set_ylim(4.06e-7, 0.311)

for s in ['top', 'right']:
    ax.spines[s].set_visible(False)
for s in ['left', 'bottom']:
    ax.spines[s].set_linewidth(1.44)
    ax.spines[s].set_color('black')

ax.yaxis.set_major_locator(FixedLocator(y_major))
ax.yaxis.set_major_formatter(FixedFormatter(y_major_labels))
ax.yaxis.set_minor_locator(NullLocator())
ax.tick_params(axis='y', which='major', direction='out', length=12, width=1.44,
               labelsize=17, pad=9)

ax.xaxis.set_major_locator(FixedLocator(x_major))
ax.xaxis.set_major_formatter(FixedFormatter(x_major_labels))
ax.xaxis.set_minor_locator(FixedLocator(x_minor))
ax.xaxis.set_minor_formatter(FixedFormatter(x_minor_labels))
ax.tick_params(axis='x', which='major', direction='out', length=13.5, width=1.44,
               labelsize=17, pad=12.5)
ax.tick_params(axis='x', which='minor', direction='out', length=7, width=1.44,
               labelsize=12.5, pad=5)

leg = ax.legend(loc='upper left', bbox_to_anchor=(225 / W, 1 - 238 / H),
                bbox_transform=fig.transFigure, borderaxespad=0, fontsize=17.5,
                frameon=True, fancybox=False, edgecolor='black', framealpha=1,
                handlelength=1.9, handletextpad=0.4, borderpad=0.4,
                labelspacing=0.3, numpoints=1)
leg.get_frame().set_linewidth(1.44)

fig.text(23 / W, 1 - 220 / H, 'I(q)', rotation=90, ha='center', va='center', fontsize=20)
fig.text(529.5 / W, 1 - 514 / H, 'q (A$^{%s}$)' % sup('-1'), ha='center', va='baseline',
         fontsize=20)

fig.savefig('out.png', dpi=100)
